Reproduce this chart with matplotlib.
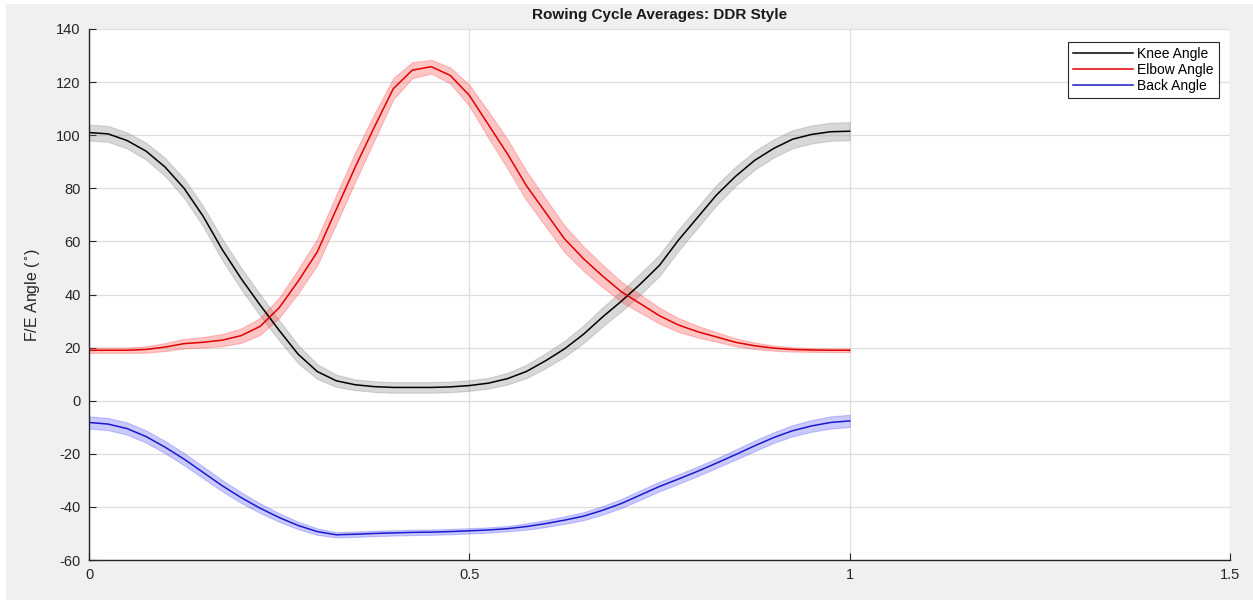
import matplotlib
matplotlib.use('Agg')
import matplotlib.pyplot as plt
from matplotlib.patches import Rectangle
import numpy as np

# normalised rowing cycle, step 0.025
cycle = np.arange(41) * 0.025

knee = [101, 100.5, 98, 94, 88, 80, 69.5, 57, 46, 36, 26.5, 17.5, 11, 7.5, 6, 5.3,
        5, 5, 5, 5.2, 5.7, 6.6, 8.3, 11, 15, 19.5, 25, 31.5, 37.5, 44, 51, 60.5,
        69, 77.5, 84.5, 90.5, 95, 98.5, 100.3, 101.3, 101.5]
knee_sd = [3, 3, 3, 3.2, 3.4, 3.6, 3.8, 4, 4, 4, 3.8, 3.4, 2.8, 2.3, 2, 2,
           2, 2, 2, 2, 2, 2, 2.2, 2.5, 2.8, 3, 3.3, 3.6, 3.8, 4, 4, 4,
           3.9, 3.8, 3.6, 3.5, 3.4, 3.4, 3.4, 3.4, 3.4]

elbow = [19, 19, 19, 19.3, 20.2, 21.5, 22, 22.8, 24.5, 28, 35, 45, 56, 72, 88, 103,
         117.5, 124.5, 125.8, 122.5, 115, 104, 93, 81, 71, 61, 53.5, 47, 41, 36.5, 32, 28.5,
         26, 24, 22, 20.7, 19.8, 19.3, 19.1, 19, 19]
elbow_sd = [1, 1, 1, 1.2, 1.5, 1.8, 2, 2.3, 2.7, 3.2, 3.8, 4.5, 5, 5.5, 5.5, 5,
            4, 3, 2.6, 3, 4, 5, 5.5, 5.5, 5.2, 5, 4.6, 4.2, 3.8, 3.4, 3, 2.6,
            2.2, 1.8, 1.5, 1.2, 1, 0.8, 0.7, 0.7, 0.7]

back = [-8.2, -8.8, -10.5, -13.5, -17.5, -22, -27, -32, -36.5, -40.5, -44, -47, -49.3, -50.5, -50.3, -50,
        -49.8, -49.6, -49.5, -49.3, -49, -48.7, -48.2, -47.4, -46.3, -45, -43.5, -41.3, -38.7, -35.5, -32.3, -29.5,
        -26.6, -23.5, -20.3, -17, -13.9, -11.3, -9.5, -8.2, -7.6]
back_sd = [2.3, 2.3, 2.3, 2.3, 2.3, 2.3, 2.2, 2.1, 2, 1.8, 1.6, 1.4, 1.2, 1, 1, 1,
           1, 1, 1, 1, 1, 1, 1, 1.2, 1.3, 1.4, 1.5, 1.6, 1.7, 1.8, 1.8, 1.8,
           1.8, 1.8, 1.9, 2, 2, 2.1, 2.2, 2.3, 2.3]

series = [
    ('Knee Angle', knee, knee_sd, '#000000', '#808080'),
    ('Elbow Angle', elbow, elbow_sd, '#e00000', '#ff4040'),
    ('Back Angle', back, back_sd, '#1a1acc', '#5050ff'),
]

plt.rcParams['font.family'] = ['Liberation Sans', 'DejaVu Sans']
plt.rcParams['axes.unicode_minus'] = False

fig = plt.figure(figsize=(12.53, 6), dpi=100)
fig.patch.set_facecolor('white')
fig.patches.append(Rectangle((6 / 1253, 0), 1, 596 / 600, transform=fig.transFigure,
                             facecolor='#f0f0f0', edgecolor='none', zorder=-10))
ax = fig.add_axes([89 / 1253, 40 / 600, 1141 / 1253, 531 / 600])
ax.set_facecolor('white')

for name, mean, sd, line_col, fill_col in series:
    mean = np.array(mean)
    sd = np.array(sd)
    ax.fill_between(cycle, mean - sd, mean + sd, facecolor=fill_col, alpha=0.3,
                    edgecolor=fill_col, linewidth=0.8)
    ax.plot(cycle, mean, color=line_col, linewidth=1.1, label=name,
            solid_joinstyle='round')

ax.set_xlim(0, 1.5)
ax.set_ylim(-60, 140)
ax.set_xticks([0, 0.5, 1, 1.5])
ax.set_xticklabels(['0', '0.5', '1', '1.5'])
ax.set_yticks(np.arange(-60, 141, 20))
ax.tick_params(direction='in', length=5, labelsize=10.5, colors='#262626', pad=6)
ax.grid(True, color='#dedede', linewidth=0.9)
ax.set_axisbelow(True)
for side in ['top', 'right']:
    ax.spines[side].set_visible(False)
for side in ['left', 'bottom']:
    ax.spines[side].set_color('#262626')
    ax.spines[side].set_linewidth(1.0)

ax.set_ylabel('F/E Angle ($^{\\circ}$)', fontsize=11.5, color='#262626', labelpad=10)
ax.set_title('Rowing Cycle Averages: DDR Style', fontsize=11, fontweight='bold',
             color='#1a1a1a', pad=7)

leg = ax.legend(loc='upper right', bbox_to_anchor=(0.990, 0.976), fontsize=10,
                frameon=True, fancybox=False, framealpha=1, edgecolor='#262626',
                handlelength=4.3, handletextpad=0.3, borderpad=0.35, labelspacing=0.15,
                borderaxespad=0)
leg.get_frame().set_linewidth(0.8)

fig.savefig('out.png', dpi=100, facecolor=fig.get_facecolor())
